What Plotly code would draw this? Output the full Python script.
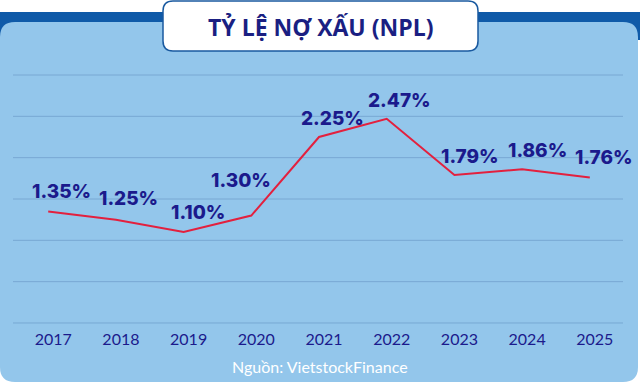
import plotly.graph_objects as go

years = ["2017", "2018", "2019", "2020", "2021", "2022", "2023", "2024", "2025"]
npl = [1.35, 1.25, 1.10, 1.30, 2.25, 2.47, 1.79, 1.86, 1.76]
labels = ["1.35%", "1.25%", "1.10%", "1.30%", "2.25%", "2.47%", "1.79%", "1.86%", "1.76%"]
grid_vals = [0, 0.5, 1.0, 1.5, 2.0, 2.5, 3.0]
title_text = "TỶ LỆ NỢ XẤU (NPL)"
source_text = "Nguồn: VietstockFinance"

W, H = 640, 383
L, R, T, B = 13, 623, 71, 327  # plot area in pixels


def px(x):
    return (x - L) / (R - L)


def py(y):
    return (B - y) / (B - T)


def rrect(x0, y0, x1, y1, r):
    rx = r / (R - L)
    ry = r / (B - T)
    X0, X1 = px(x0), px(x1)
    Y0, Y1 = py(y0), py(y1)
    return (f"M {X0+rx},{Y0} L {X1-rx},{Y0} Q {X1},{Y0} {X1},{Y0-ry} "
            f"L {X1},{Y1+ry} Q {X1},{Y1} {X1-rx},{Y1} "
            f"L {X0+rx},{Y1} Q {X0},{Y1} {X0},{Y1+ry} "
            f"L {X0},{Y0-ry} Q {X0},{Y0} {X0+rx},{Y0} Z")


NAVY = "#1b1a8c"

fig = go.Figure()
fig.add_trace(go.Scatter(
    x=years, y=npl, mode="lines",
    line=dict(color="#e3203e", width=2),
    hoverinfo="skip", showlegend=False,
))

shifts = [(13, 20), (13, 21), (14, 20), (-10, 35), (13, 19), (13, 18), (16, 19), (15, 19), (14, 20)]
for i, (v, lab, (dx, dy)) in enumerate(zip(npl, labels, shifts)):
    fig.add_annotation(x=i, y=v, xref="x", yref="y", text=lab, showarrow=False,
                       xanchor="center", yanchor="middle",
                       xshift=dx, yshift=dy,
                       font=dict(family="Inter", size=19, color=NAVY, weight=800))

shapes = [
    dict(type="rect", xref="paper", yref="paper", x0=px(0), x1=px(640), y0=py(12), y1=py(40),
         fillcolor="#0f5aa8", line=dict(width=0), layer="below"),
    dict(type="path", xref="paper", yref="paper", path=rrect(0, 22, 638, 382, 15),
         fillcolor="#93c6eb", line=dict(width=0), layer="below"),
]
for g in grid_vals:
    shapes.append(dict(type="line", xref="paper", yref="y", x0=0, x1=1, y0=g, y1=g,
                       line=dict(color="#78a8d3", width=1), layer="below"))
shapes.append(dict(type="path", xref="paper", yref="paper", path=rrect(163, 1, 478, 51, 10),
                   fillcolor="white", line=dict(color="#1a5aa0", width=1.5), layer="above"))

fig.add_annotation(xref="paper", yref="paper", x=px(320), y=py(27), text=f"<b>{title_text}</b>",
                   xanchor="center", yanchor="middle",
                   showarrow=False, font=dict(family="Open Sans", size=23, color="#1a1f82"))
fig.add_annotation(xref="paper", yref="paper", x=px(320), y=py(366), text=source_text,
                   xanchor="center", yanchor="middle",
                   showarrow=False, font=dict(family="Lato", size=16, color="white"))

fig.update_layout(
    width=W, height=H,
    margin=dict(l=L, r=W - R, t=T, b=H - B),
    paper_bgcolor="white",
    plot_bgcolor="rgba(0,0,0,0)",
    shapes=shapes,
    xaxis=dict(type="category", range=[-0.52, 8.49], showgrid=False, zeroline=False,
               showline=False, ticks="", ticklabelshift=5, ticklabelstandoff=1,
               tickfont=dict(family="Lato", size=16, color=NAVY)),
    yaxis=dict(range=[-0.0485, 3.0485], showgrid=False,
               zeroline=False, showticklabels=False, ticks=""),
    showlegend=False,
)

fig.write_html("out.html")
